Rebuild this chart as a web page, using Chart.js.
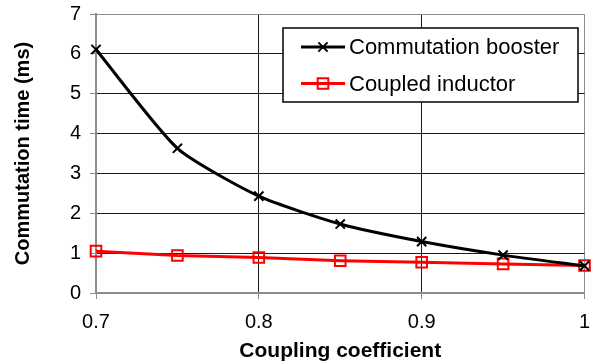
<!DOCTYPE html>
<html>
<head>
<meta charset="utf-8">
<script src="https://cdn.jsdelivr.net/npm/chart.js@4"></script>
<style>
  body { margin: 0; background: #fff; }
  #wrap { width: 594px; height: 364px; }
</style>
</head>
<body>
<div id="wrap"><canvas id="myChart" width="594" height="364"></canvas></div>
<script>
// data
const coupling = [0.7, 0.75, 0.8, 0.85, 0.9, 0.95, 1.0];
const boosterTime = [6.11, 3.63, 2.43, 1.73, 1.29, 0.95, 0.68];
const inductorTime = [1.05, 0.94, 0.89, 0.81, 0.77, 0.73, 0.69];
const xTicks = [0.7, 0.8, 0.9, 1];
const yTicks = [0, 1, 2, 3, 4, 5, 6, 7];

Chart.defaults.font.family = "'Liberation Sans', Arial, sans-serif";
Chart.defaults.color = "#000";

function toPoints(ys) {
  return coupling.map((x, i) => ({ x: x, y: ys[i] }));
}

// legend box like the excel one
const legendBox = {
  id: 'legendBox',
  afterDraw(chart) {
    const c = chart.ctx;
    c.save();
    c.fillStyle = '#fff';
    c.fillRect(283, 28, 295, 74);
    c.strokeStyle = '#000';
    c.lineWidth = 1.5;
    c.strokeRect(283, 28, 295, 74);
    const items = chart.data.datasets;
    items.forEach((ds, i) => {
      const y = 47 + i * 36.5;
      c.strokeStyle = ds.borderColor;
      c.lineWidth = ds.borderWidth;
      c.beginPath();
      c.moveTo(301, y);
      c.lineTo(345, y);
      c.stroke();
      c.lineWidth = ds.pointBorderWidth;
      c.fillStyle = 'rgba(0,0,0,0)';
      Chart.helpers.drawPoint(c, {
        pointStyle: ds.pointStyle,
        radius: ds.pointRadius,
        borderWidth: ds.pointBorderWidth
      }, 323, y);
      c.fillStyle = '#000';
      c.font = "22px 'Liberation Sans', Arial, sans-serif";
      c.textBaseline = 'middle';
      c.fillText(ds.label, 349, y + 1);
    });
    c.restore();
  }
};

const ctx = document.getElementById('myChart');

new Chart(ctx, {
  type: 'line',
  data: {
    datasets: [
      {
        label: 'Commutation booster',
        data: toPoints(boosterTime),
        borderColor: '#000',
        borderWidth: 3,
        pointStyle: 'crossRot',
        pointRadius: 6.5,
        pointBorderWidth: 2,
        pointBorderColor: '#000',
        backgroundColor: 'transparent',
        tension: 0.2,
        clip: false
      },
      {
        label: 'Coupled inductor',
        data: toPoints(inductorTime),
        borderColor: '#ff0000',
        borderWidth: 3,
        pointStyle: 'rect',
        pointRadius: 7.5,
        pointBorderWidth: 2,
        pointBorderColor: '#ff0000',
        pointBackgroundColor: 'transparent',
        backgroundColor: 'transparent',
        tension: 0,
        clip: false
      }
    ]
  },
  plugins: [legendBox],
  options: {
    responsive: false,
    animation: false,
    layout: { padding: { top: 14, right: 7, left: 0, bottom: 0 } },
    plugins: {
      legend: { display: false },
      tooltip: { enabled: false }
    },
    scales: {
      x: {
        type: 'linear',
        min: 0.7,
        max: 1,
        afterBuildTicks: (scale) => { scale.ticks = xTicks.map(v => ({ value: v })); },
        afterFit: (scale) => {
          scale.height = 71;
          scale.paddingLeft = 0;
          scale.paddingRight = 0;
        },
        ticks: {
          font: { size: 20 },
          padding: 11,
          callback: (v) => String(Number(v.toFixed(1)))
        },
        grid: {
          color: (c) => (c.tick && (c.tick.value === 0.7 || c.tick.value === 1)) ? '#8c8c8c' : '#1a1a1a',
          tickColor: '#8c8c8c',
          tickLength: 6,
          lineWidth: 1
        },
        border: { color: '#8c8c8c', width: 2 },
        title: {
          display: true,
          text: 'Coupling coefficient',
          font: { size: 21, weight: 'bold' },
          padding: { top: 0, bottom: 0 }
        }
      },
      y: {
        min: 0,
        max: 7,
        afterBuildTicks: (scale) => { scale.ticks = yTicks.map(v => ({ value: v })); },
        afterFit: (scale) => {
          scale.width = 96;
          scale.paddingTop = 0;
          scale.paddingBottom = 0;
        },
        ticks: {
          font: { size: 20 },
          padding: 9
        },
        grid: {
          color: (c) => (c.tick && (c.tick.value === 0 || c.tick.value === 7)) ? '#8c8c8c' : '#1a1a1a',
          tickColor: '#8c8c8c',
          tickLength: 6,
          lineWidth: 1
        },
        border: { color: '#8c8c8c', width: 2 },
        title: {
          display: true,
          text: 'Commutation time (ms)',
          font: { size: 20, weight: 'bold' },
          padding: { top: 11, bottom: 0 }
        }
      }
    }
  }
});
</script>
</body>
</html>
